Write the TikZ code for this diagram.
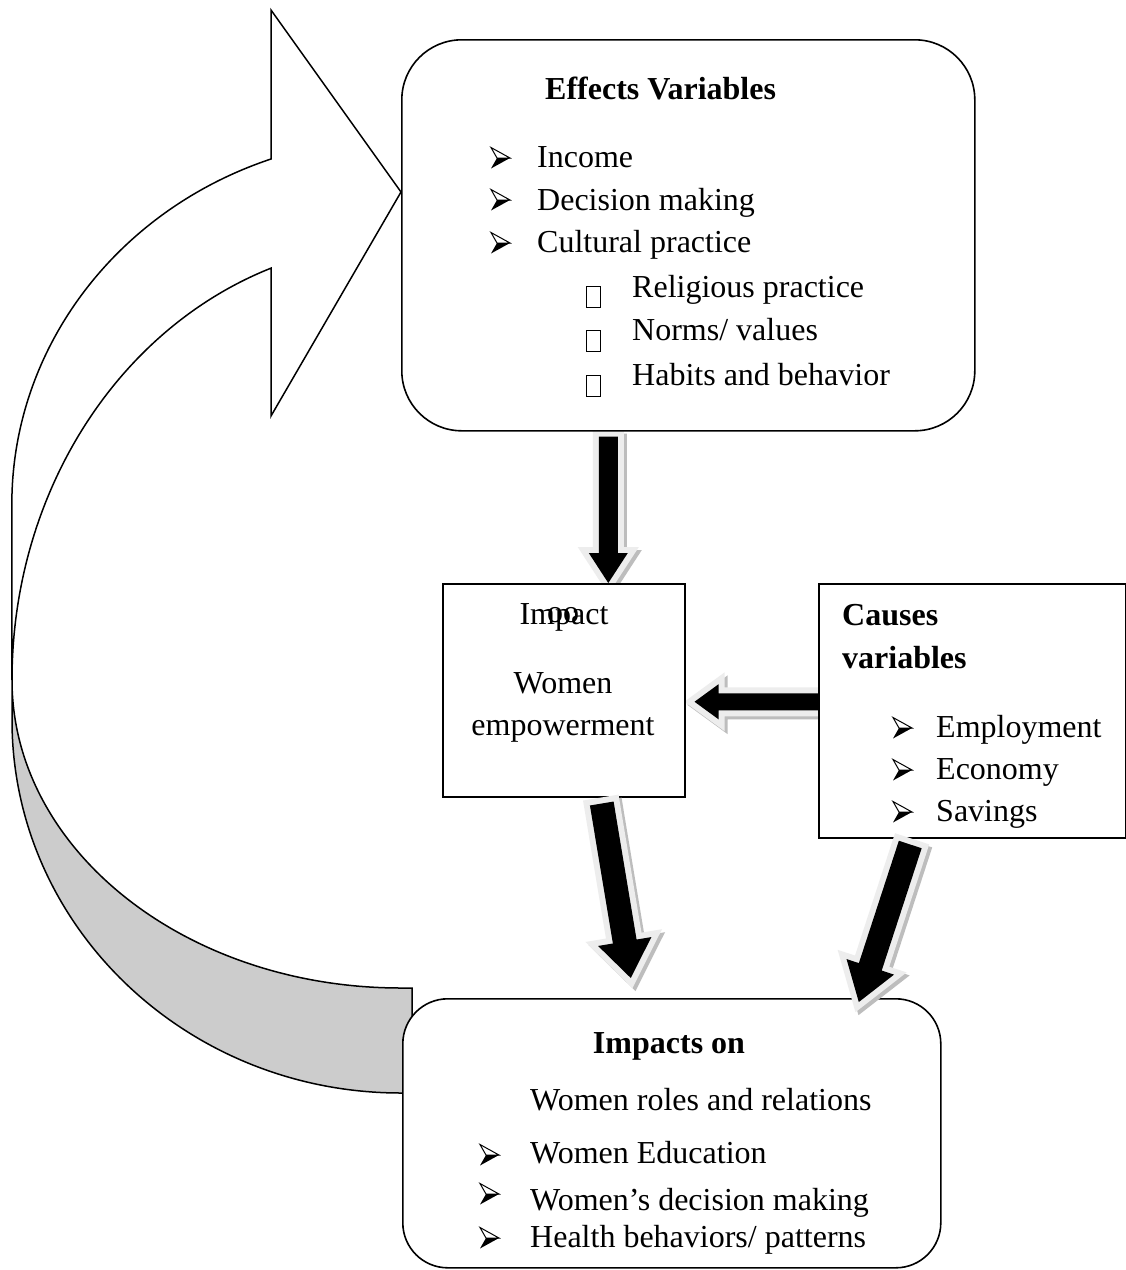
\documentclass[tikz,border=0pt]{standalone}
\usepackage{fontspec}
\setmainfont{Liberation Serif}
\usetikzlibrary{calc}
\definecolor{bandgray}{HTML}{CCCCCC}
\definecolor{outlgray}{HTML}{EDEDED}
\definecolor{shadgray}{HTML}{BDBDBD}
\tikzset{
  txt/.style={inner sep=0pt, font=\fontsize{32}{38}\selectfont},
  ttl/.style={inner sep=0pt, font=\fontsize{32}{38}\selectfont\bfseries},
  rbox/.style={draw, line width=1.6pt, fill=white, rounded corners=#1, inner sep=0pt, anchor=north west},
  sbox/.style={draw, line width=1.5pt, fill=white, inner sep=0pt, anchor=north west},
  sq/.style={draw, line width=1.3pt, minimum width=14pt, minimum height=21pt, inner sep=0pt},
  shd/.style={fill=shadgray, draw=shadgray, line width=12pt, line join=miter},
  outl/.style={fill=outlgray, draw=outlgray, line width=12pt, line join=miter},
  blk/.style={fill=black, draw=none},
  curv/.style={line width=1.5pt, line join=miter},
  bul/.pic={
    \draw[line width=1pt, line join=miter] (0,-10.5) -- (19,0) -- (6,0) -- cycle;
    \fill (6,0) -- (19,0) -- (0,10.5) -- cycle;
  }
}
\newcommand\blkarrow[6]{%
  \coordinate (hb) at ($(#2)!#5!(#1)$);
  \filldraw[#6] ($(#1)!#3!90:(#2)$) -- ($(hb)!#3!90:(#2)$) -- ($(hb)!#4!90:(#2)$) -- (#2)
    -- ($(hb)!#4!-90:(#2)$) -- ($(hb)!#3!-90:(#2)$) -- ($(#1)!#3!-90:(#2)$) -- cycle;
}
\newcommand\fancyarrow[5]{%
  \coordinate (tmpS) at ($(#1)+(3,3)$);
  \coordinate (tmpE) at ($(#2)+(3,3)$);
  \blkarrow{tmpS}{tmpE}{#3}{#4}{#5}{shd}
  \blkarrow{#1}{#2}{#3}{#4}{#5}{outl}
  \blkarrow{#1}{#2}{#3}{#4}{#5}{blk}
}
\begin{document}
\begin{tikzpicture}[x=1pt, y=-1pt]
\fill[white] (0,0) rectangle (1126,1270);
\useasboundingbox (0,0) rectangle (1126,1270);

% curved feedback arrow: front face
\filldraw[curv, fill=white] (271,159)
  arc[start angle=250.5, end angle=180, x radius=389, y radius=366]
  -- (12,680)
  arc[start angle=180, end angle=250.5, x radius=389, y radius=437]
  -- (271,416) -- (401,192) -- (271,10) -- cycle;
% curved feedback arrow: back (grey) face
\filldraw[curv, fill=bandgray] (12,680)
  arc[start angle=180, end angle=90, x radius=389, y radius=308]
  -- (412,988) -- (412,1093) -- (401,1093)
  arc[start angle=90, end angle=180, x radius=389, y radius=373]
  -- cycle;

% boxes (positions)
\path (401,39) node[rbox=60pt, minimum width=573pt, minimum height=391pt, draw=none, fill=none] (eff) {};
\path (442,583) node[sbox, minimum width=242pt, minimum height=213pt, draw=none, fill=none] (imp) {};
\path (818,583) node[sbox, minimum width=307pt, minimum height=254pt, draw=none, fill=none] (cause) {};
\path (402,998) node[rbox=45pt, minimum width=538pt, minimum height=269pt, draw=none, fill=none] (out) {};

% arrow end points
\coordinate (a1s) at ($(eff.south)+(-80,5)$);
\coordinate (a1e) at (a1s |- imp.north);
\coordinate (a2s) at ($(cause.west)+(0,-9)$);
\coordinate (a2e) at ($(imp.east)+(9,11.5)$);
\coordinate (a3s) at ($(imp.south)+(38,6)$);
\coordinate (a3e) at ($(out.north)+(-41,-20)$);
\coordinate (a4s) at ($(cause.south)+(-62,6)$);
\coordinate (a4e) at ($(out.north)+(187,4)$);

% arrows under the boxes
\fancyarrow{a1s}{a1e}{9.5pt}{19.5pt}{30pt}
\fancyarrow{a2s}{a2e}{8.5pt}{17.5pt}{24pt}

% visible boxes
\node[rbox=60pt, minimum width=573pt, minimum height=391pt] (effb) at (401,39) {};
\node[sbox, minimum width=242pt, minimum height=213pt] (impb) at (442,583) {};
\node[sbox, minimum width=307pt, minimum height=254pt] (causeb) at (818,583) {};
\node[rbox=45pt, minimum width=538pt, minimum height=269pt] (outb) at (402,998) {};

% arrows over the boxes
\fancyarrow{a3s}{a3e}{12pt}{27pt}{37pt}
\fancyarrow{a4s}{a4e}{12pt}{25pt}{37pt}

% Effects box text
\node[ttl, anchor=base west] (etitle) at (545,99) {Effects Variables};
\node[txt, anchor=base west] (e1) at (537,167) {Income};
\node[txt, anchor=base west] (e2) at (537,210) {Decision making};
\node[txt, anchor=base west] (e3) at (537,252) {Cultural practice};
\node[txt, anchor=base west] (e4) at (632,297) {Religious practice};
\node[txt, anchor=base west] (e5) at (632,340) {Norms/ values};
\node[txt, anchor=base west] (e6) at (632,385) {Habits and behavior};
\pic (eb1) at (491,158) {bul};
\pic (eb2) at (491,200) {bul};
\pic (eb3) at (491,243) {bul};
\node[sq] (q1) at (593.5,297) {};
\node[sq] (q2) at (593.5,341) {};
\node[sq] (q3) at (593.5,386) {};

% Impact box text
\node[txt, anchor=base] (i1) at (564,624) {Impact};
\node[txt, anchor=base west] (i0) at (547,622) {oo};
\node[txt, anchor=base] (i2) at (563,693) {Women};
\node[txt, anchor=base] (i3) at (563,735) {empowerment};

% Causes box text
\node[ttl, anchor=base west] (c1) at (842,625) {Causes};
\node[ttl, anchor=base west] (c2) at (842,668) {variables};
\node[txt, anchor=base west] (c3) at (936,737) {Employment};
\node[txt, anchor=base west] (c4) at (936,779) {Economy};
\node[txt, anchor=base west] (c5) at (936,821) {Savings};
\pic (cb1) at (893,728) {bul};
\pic (cb2) at (893,770) {bul};
\pic (cb3) at (893,812) {bul};

% Impacts on box text
\node[ttl, anchor=base] (o0) at (669,1053) {Impacts on};
\node[txt, anchor=base west] (o1) at (530,1110) {Women roles and relations};
\node[txt, anchor=base west] (o2) at (530,1163) {Women Education};
\node[txt, anchor=base west] (o3) at (530,1210) {Women’s decision making};
\node[txt, anchor=base west] (o4) at (530,1247) {Health behaviors/ patterns};
\pic (ob1) at (480,1155) {bul};
\pic (ob2) at (480,1194) {bul};
\pic (ob3) at (480,1238) {bul};
\end{tikzpicture}
\end{document}
